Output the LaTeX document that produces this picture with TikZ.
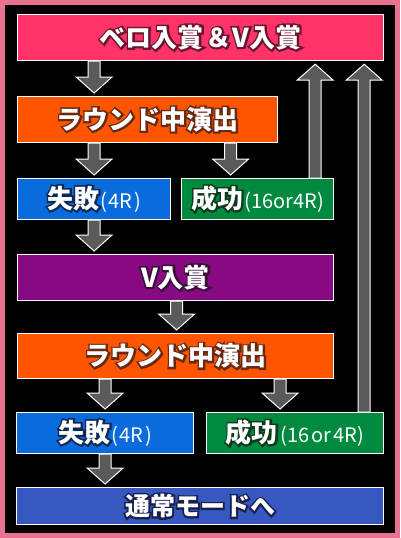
\documentclass[tikz,border=0pt]{standalone}
\usepackage{fontspec}
\setmainfont{Noto Sans CJK JP}
\newfontfamily\jpedge{Noto Sans CJK JP}[BoldFeatures={FakeBold=14}]
\usetikzlibrary{calc}

\definecolor{framepink}{HTML}{E8728F}
\definecolor{boxpink}{HTML}{FF3367}
\definecolor{boxorange}{HTML}{FF5500}
\definecolor{boxblue}{HTML}{0A6CDC}
\definecolor{boxgreen}{HTML}{008A40}
\definecolor{boxpurple}{HTML}{870A82}
\definecolor{boxindigo}{HTML}{3658C0}
\definecolor{dkpink}{HTML}{6A1530}
\definecolor{dkorange}{HTML}{6A2A12}
\definecolor{dkblue}{HTML}{0C2A55}
\definecolor{dkgreen}{HTML}{0E3A1C}
\definecolor{dkpurple}{HTML}{3C0E3A}
\definecolor{dkindigo}{HTML}{18204E}
\definecolor{arrgray}{HTML}{5A5A5A}

% white text with a dark edge
\newcommand{\edgetxt}[2]{\leavevmode\rlap{\jpedge\color{#1}#2}#2}
% block arrow from #1 to #2 (vertical), tip stops 3pt short of #2
\newcommand{\flowarrow}[2]{%
  \draw[flowarr] let \p1=#1, \p2=#2, \n1={ifthenelse(\y2>\y1,1,-1)} in
    (\x1-6pt,\y1) -- (\x1-6pt,{\y2-(\n1)*19pt}) -- (\x1-18pt,{\y2-(\n1)*19pt})
    -- (\x1,{\y2-(\n1)*3pt}) -- (\x1+18pt,{\y2-(\n1)*19pt})
    -- (\x1+6pt,{\y2-(\n1)*19pt}) -- (\x1+6pt,\y1) -- cycle;}

\newcommand{\rnd}[1]{{\mdseries\fontsize{20}{20}\selectfont #1}}

\begin{document}
\begin{tikzpicture}[x=1pt, y=-1pt,
    box/.style={draw=white, line width=1.2pt, anchor=north west, inner sep=0pt,
      text=white, font=\bfseries\fontsize{26}{26}\selectfont},
    flowarr/.style={fill=arrgray, draw=white, line width=1pt, line join=miter}]

    \useasboundingbox (0,0) rectangle (400,538);

    % frame
    \fill[framepink] (0,0) rectangle (400,538);
    \fill[black] (5,5) rectangle (395,533);

    % first stage
    \node[box, fill=boxpink, minimum width=366pt, minimum height=46pt] (entry) at (17,14)
        {\edgetxt{dkpink}{ベロ入賞\kern2pt＆\kern1ptV入賞}};
    \node[box, fill=boxorange, minimum width=260pt, minimum height=46pt] (round1) at (17,96)
        {\edgetxt{dkorange}{ラウンド中演出}};
    \node[box, fill=boxblue, minimum width=153pt, minimum height=41pt] (fail1) at (17,178)
        {\edgetxt{dkblue}{失敗}\rnd{\kern1pt(\kern1pt4R\kern2pt)}};
    \node[box, fill=boxgreen, minimum width=152pt, minimum height=41pt] (win1) at (181,178)
        {\edgetxt{dkgreen}{成功}\rnd{\kern1pt(16or4R)}};

    % second stage
    \node[box, fill=boxpurple, minimum width=316pt, minimum height=46pt] (vwin) at (17,254)
        {\edgetxt{dkpurple}{V入賞}};
    \node[box, fill=boxorange, minimum width=316pt, minimum height=45pt] (round2) at (17,333)
        {\edgetxt{dkorange}{ラウンド中演出}};
    \node[box, fill=boxblue, minimum width=177pt, minimum height=41pt] (fail2) at (16,412)
        {\edgetxt{dkblue}{失敗}\rnd{\kern1pt(\kern1pt4R\kern2pt)}};
    \node[box, fill=boxgreen, minimum width=177pt, minimum height=41pt] (win2) at (206,412)
        {\edgetxt{dkgreen}{成功}\rnd{\kern3pt(16\kern2pt or\kern2pt 4R)}};
    \node[box, fill=boxindigo, minimum width=367pt, minimum height=37pt,
        font=\bfseries\fontsize{25}{25}\selectfont] (normal) at (16,487)
        {\edgetxt{dkindigo}{通常モードへ}};

    % arrows
    \flowarrow{(entry.south -| fail1.north)}{(round1.north -| fail1.north)}
    \flowarrow{(round1.south -| fail1.north)}{(fail1.north)}
    \flowarrow{([xshift=-27pt]round1.south -| win1.north)}{([xshift=-27pt]win1.north)}
    \flowarrow{(fail1.south)}{(vwin.north -| fail1.south)}
    \flowarrow{([xshift=1pt]vwin.south)}{([xshift=1pt]round2.north)}
    \flowarrow{(round2.south -| fail2.north)}{(fail2.north)}
    \flowarrow{([xshift=-15pt]round2.south -| win2.north)}{([xshift=-15pt]win2.north)}
    \flowarrow{(fail2.south)}{(normal.north -| fail2.south)}
    \flowarrow{([xshift=-19pt]win1.north east)}{([xshift=-19pt]entry.south -| win1.north east)}
    \flowarrow{([xshift=-20pt]win2.north east)}{([xshift=-20pt]entry.south -| win2.north east)}
\end{tikzpicture}
\end{document}
